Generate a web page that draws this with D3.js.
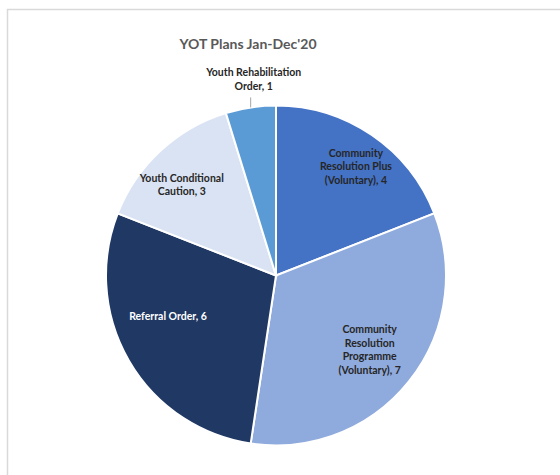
<!DOCTYPE html>
<html>
<head>
<meta charset="utf-8">
<script src="https://cdn.jsdelivr.net/npm/d3@7"></script>
<style>
  html, body { margin: 0; padding: 0; background: #fff; }
  svg { display: block; }
</style>
</head>
<body>
<div id="chart"></div>
<script>
const title = "YOT Plans Jan-Dec'20";
const categories = [
    "Community Resolution Plus (Voluntary)",
    "Community Resolution Programme (Voluntary)",
    "Referral Order",
    "Youth Conditional Caution",
    "Youth Rehabilitation Order"
];
const values = [4, 7, 6, 3, 1];
// wrapped label lines, as shown in the chart
const labelLines = [
    ["Community", "Resolution Plus", "(Voluntary), 4"],
    ["Community", "Resolution", "Programme", "(Voluntary), 7"],
    ["Referral Order, 6"],
    ["Youth Conditional", "Caution, 3"],
    ["Youth Rehabilitation", "Order, 1"]
];
const colors = ["#4472c4", "#8faadc", "#203864", "#dae3f3", "#5b9bd5"];
const textColors = ["#262626", "#262626", "#ffffff", "#262626", "#262626"];

const width = 560, height = 475;
const cx = 276, cy = 275.5, radius = 170;
// small nudges so labels sit like Excel's "best fit"
const nudge = [[11, -8], [-2, -2], [-2, -20], [-11, -1], [0, 0]];
const lineH = 13.5;
const labelFont = "Lato, 'Open Sans', sans-serif";

const data = categories.map((c, i) => ({name: c, value: values[i], lines: labelLines[i], i: i}));

const svg = d3.select("#chart").append("svg")
    .attr("width", width)
    .attr("height", height);

// chart area border (runs off the right and bottom edge)
svg.append("path")
    .attr("d", `M7.5,${height + 5}V9.5H${width + 5}`)
    .attr("fill", "none")
    .attr("stroke", "#d9d9d9")
    .attr("stroke-width", 1.5);

svg.append("text")
    .attr("x", 248)
    .attr("y", 44)
    .attr("dy", "0.35em")
    .attr("text-anchor", "middle")
    .attr("fill", "#595959")
    .style("font-family", labelFont)
    .style("font-size", "14px")
    .style("font-weight", "bold")
    .text(title);

const pie = d3.pie().sort(null).value(d => d.value);
const arc = d3.arc().innerRadius(0).outerRadius(radius);
const labelArc = d3.arc().innerRadius(radius * 0.72).outerRadius(radius * 0.72);

const g = svg.append("g").attr("transform", `translate(${cx},${cy})`);
const arcs = pie(data);

g.selectAll("path.slice")
    .data(arcs)
    .enter().append("path")
    .attr("class", "slice")
    .attr("d", arc)
    .attr("fill", d => colors[d.data.i])
    .attr("stroke", "#fff")
    .attr("stroke-width", 2);

function drawLines(x, y, lines, fill) {
    lines.forEach((t, k) => {
        g.append("text")
            .attr("x", x)
            .attr("y", y + (k - (lines.length - 1) / 2) * lineH)
            .attr("dy", "0.35em")
            .attr("text-anchor", "middle")
            .attr("fill", fill)
            .style("font-family", labelFont)
            .style("font-size", "10.5px")
            .style("font-weight", "bold")
            .text(t);
    });
}

arcs.forEach(d => {
    const i = d.data.i;
    const lines = d.data.lines;
    if (i === 4) {
        // small slice: label outside with a leader line
        const mid = (d.startAngle + d.endAngle) / 2;
        const ex = Math.sin(mid) * radius, ey = -Math.cos(mid) * radius;
        g.append("line")
            .attr("x1", ex).attr("y1", ey)
            .attr("x2", ex).attr("y2", ey - 10)
            .attr("stroke", "#a6a6a6")
            .attr("stroke-width", 1);
        drawLines(ex + 3, ey - 10 - 18, lines, textColors[i]);
        return;
    }
    const c = labelArc.centroid(d);
    drawLines(c[0] + nudge[i][0], c[1] + nudge[i][1], lines, textColors[i]);
});
</script>
</body>
</html>
